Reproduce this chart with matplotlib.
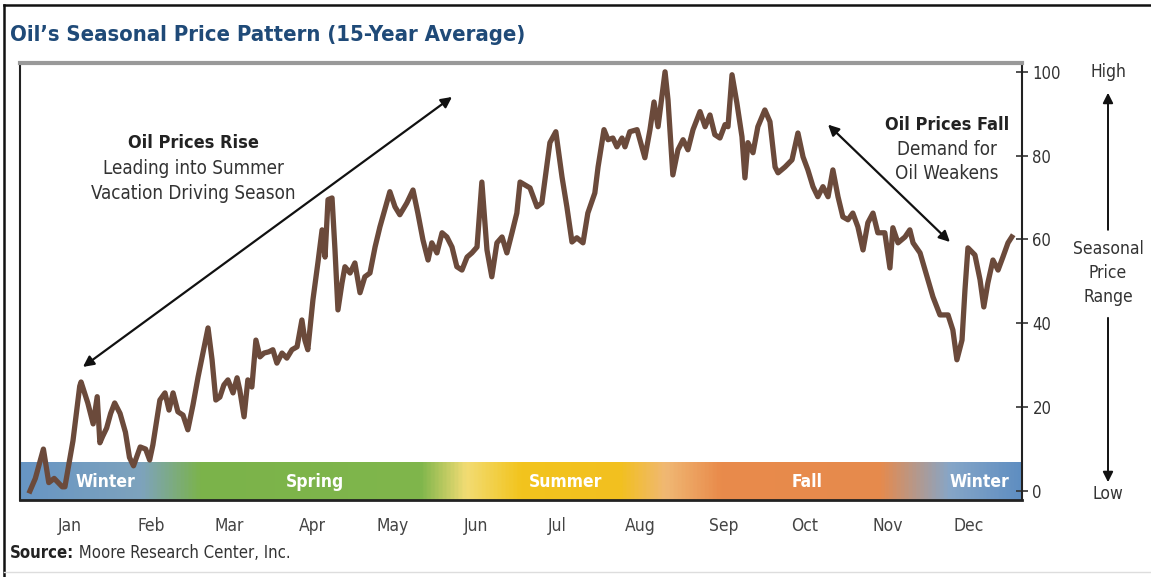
import numpy as np
import matplotlib
matplotlib.use("Agg")
import matplotlib.pyplot as plt
from matplotlib.colors import LinearSegmentedColormap
from matplotlib.lines import Line2D
import matplotlib.transforms as mtransforms

plt.rcParams['font.family'] = ['DejaVu Sans']
plt.rcParams['font.stretch'] = 'condensed'

# 15-year average seasonal pattern, day of year vs. relative price (0-100)
days = [0, 2, 5, 7, 9, 12, 13, 16, 18.5, 19, 21.5, 23.5, 25, 26, 27, 28.5, 30, 31.5,
        33.5, 35.5, 37, 38.5, 41, 43, 44.5, 45.7, 48.3, 50.2, 51.7, 53.2, 55, 56.9,
        58.7, 60.6, 62.5, 64.3, 66.2, 67.7, 69.1, 70.6, 72.1, 73.6, 75.5, 77, 78,
        79.6, 81, 82.5, 84, 85.5, 87, 88.8, 90.3, 91.8, 93.7, 95.5, 97.4, 99.3,
        101.1, 102.2, 103.3, 105.2, 107.1, 108.6, 109.7, 110.8, 112.3, 113.4,
        114.5, 116, 117.1, 119, 120.8, 122.7, 124.5, 126.4, 128.3, 130.1, 133.8,
        135.7, 137.5, 140.1, 142.4, 144.2, 146.1, 148, 149.4, 151.3, 153.2, 155,
        156.9, 158.7, 160.6, 162.5, 164.3, 166.2, 168, 169.9, 171.7, 173.6, 175.5,
        177.3, 179.2, 181, 182.2, 185.9, 188.5, 190.3, 193.3, 195.5, 197.8, 199.6,
        201.5, 203.3, 205.6, 207.4, 210, 211.2, 213.4, 214.9, 216.7, 218.2, 220.1,
        221.2, 223, 225.7, 227.5, 228.6, 230.5, 232, 233.5, 236.1, 237.2, 239,
        240.9, 242.8, 244.6, 246.5, 249.1, 251, 252.8, 254.6, 256.5, 258.4, 259.5,
        261, 262.8, 264.7, 265.8, 266.9, 268.8, 270.6, 273.2, 275.1, 277, 278.1,
        280.7, 283.3, 285.5, 287.4, 289.2, 291.1, 292.9, 294.8, 296.7, 298.5,
        300.4, 302.2, 304.1, 305.9, 307.8, 309.7, 311.5, 313.4, 315.2, 317.8,
        319.7, 320.8, 322.7, 325.3, 327.1, 328.3, 330.9, 333.5, 335.7, 338.3,
        341.3, 343.1, 344.6, 346.5, 347.6, 348.7, 351.3, 353.2, 354.6, 356.1, 358,
        359.9, 361.7, 363.6, 365]
prices = [0, 3, 10, 2, 3, 1, 1, 12, 25, 26, 21, 16, 22.5, 11.5, 13, 15, 18.5, 21,
          18.5, 14, 8, 6, 10.5, 10, 7.4, 11, 21.7, 23.4, 19.3, 23.4, 18.9, 18.1,
          14.6, 20.5, 27.2, 32.9, 38.9, 31.3, 21.7, 22.4, 25.3, 26.5, 23.4, 27, 24.1,
          17.7, 26.5, 24.8, 36, 32, 32.9, 33.2, 33.7, 30.5, 32.9, 31.7, 33.7, 34.4,
          40.8, 36, 33.7, 45.6, 54.7, 62.3, 55.8, 69.5, 69.9, 57.5,
          43.2, 49.6, 53.5, 52, 54.4, 47.3, 51.1, 52, 58.2, 63, 71.4,
          67.8, 65.9, 68.7, 71.8, 66.3, 59.9, 55.1, 59.2, 56.8, 61.6, 60.6,
          58.2, 53.5, 52.7, 55.8, 56.8, 58.2, 73.7, 57.5, 51.1, 59.2, 60.6,
          56.8, 61.6, 66.3, 73.7, 72.3, 67.8, 68.7, 83.1, 85.7, 74.9, 67.8,
          59.4, 60.4, 59.2, 66.3, 71.1, 77.3, 86.2, 83.8, 84.2, 82.1, 84.2,
          82.1, 85.7, 86.2, 82.1, 79.5, 86.2, 92.8, 86.9, 100, 93.3, 75.4,
          81.4, 83.8, 81.4, 86.2, 90.5, 86.9, 89.7, 85, 84.2, 87.4, 86.9,
          99.3, 92.6, 84.5, 74.7, 83.1, 80.7, 86.9, 90.9, 88.1, 77.3, 75.9,
          77.3, 79, 85.4, 79.7, 76.6, 72.6, 70.2, 72.6, 70.2, 76.6,
          70.2, 65.4, 64.7, 66.3, 63, 57.5, 64, 66.3, 61.6, 61.6,
          53.2, 62.8, 59.2, 60.6, 62.3, 59.2, 56.8, 51.1, 46.3, 42,
          42, 38.4, 31.3, 36, 48, 58, 56.3, 50.4, 43.9, 49.6, 55.1,
          52.7, 55.8, 59.2, 60.6]

months = ['Jan', 'Feb', 'Mar', 'Apr', 'May', 'Jun', 'Jul', 'Aug', 'Sep', 'Oct', 'Nov', 'Dec']
month_mid = [15, 45, 74, 105, 135, 166, 196, 227, 258, 288, 319, 349]
price_ticks = [0, 20, 40, 60, 80, 100]

seasons = ['Winter', 'Spring', 'Summer', 'Fall', 'Winter']
season_pos = [28, 106, 199, 289, 353]

x_lo, x_hi = -3.7, 368.8
y_lo, y_hi = -2.15, 102.1
band_top = 6.9

fig = plt.figure(figsize=(11.51, 5.77), dpi=100)
ax = fig.add_axes([20 / 1151, 1 - 500 / 577, 1002 / 1151, 437 / 577])
ax.set_xlim(x_lo, x_hi)
ax.set_ylim(y_lo, y_hi)

# season colour band along the bottom
band_colors = [(0.0, '#6795c4'), (0.12, '#7ea3bd'), (0.18, '#7bb34a'),
               (0.40, '#80b64c'), (0.445, '#f2dc74'), (0.50, '#f3c41d'),
               (0.60, '#f2c020'), (0.645, '#f0b874'), (0.70, '#e98b4b'),
               (0.86, '#e68a4d'), (0.93, '#86a6c8'), (1.0, '#5f8ec1')]
cmap = LinearSegmentedColormap.from_list('seasons', band_colors)
grad = np.linspace(0, 1, 512).reshape(1, -1)
ax.imshow(grad, cmap=cmap, aspect='auto', extent=[x_lo, x_hi, y_lo, band_top],
          zorder=1, interpolation='bilinear')
for name, pos in zip(seasons, season_pos):
    ax.text(pos, 2.1, name, color='white', fontsize=12.5, fontweight='bold',
            ha='center', va='center', zorder=2)

ax.plot(days, prices, color='#6b4a3b', lw=3.8, solid_joinstyle='round', zorder=3)

# axes frame
ax.spines['left'].set_color('#222222')
ax.spines['bottom'].set_color('#222222')
ax.spines['right'].set_color('#222222')
ax.spines['top'].set_color('#999999')
ax.spines['top'].set_linewidth(3)
ax.spines['left'].set_linewidth(1.5)
ax.spines['bottom'].set_linewidth(2)
ax.spines['right'].set_linewidth(1.5)

ax.yaxis.tick_right()
ax.set_yticks(price_ticks)
ax.tick_params(axis='y', direction='inout', length=9, width=1.2, pad=3,
               labelsize=12, labelcolor='#333333', color='#333333')
ax.set_xticks(month_mid)
ax.set_xticklabels(months)
ax.tick_params(axis='x', length=0, pad=12, labelsize=12.5, labelcolor='#444444')

# annotations with double arrows
arrow_kw = dict(arrowstyle='<|-|>', color='#111111', lw=1.6, mutation_scale=16,
                shrinkA=0, shrinkB=0)
ax.annotate('', xy=(19.7, 29.6), xytext=(156.9, 94), arrowprops=arrow_kw)
ax.annotate('', xy=(296.7, 87.4), xytext=(342, 59.4), arrowprops=arrow_kw)

ax.text(60.6, 83, 'Oil Prices Rise', fontsize=13, fontweight='bold', color='#222222',
        ha='center', va='center')
ax.text(60.6, 77, 'Leading into Summer', fontsize=13.5, color='#333333',
        ha='center', va='center')
ax.text(60.6, 70.9, 'Vacation Driving Season', fontsize=13.5, color='#333333',
        ha='center', va='center')
ax.text(341, 87.4, 'Oil Prices Fall', fontsize=13, fontweight='bold', color='#222222',
        ha='center', va='center')
ax.text(341, 81.4, 'Demand for', fontsize=13.5, color='#333333', ha='center', va='center')
ax.text(341, 75.7, 'Oil Weakens', fontsize=13.5, color='#333333', ha='center', va='center')

# high / low scale on the right
side = mtransforms.blended_transform_factory(ax.transAxes, ax.transData)
sx = (1108 - 20) / 1002
ax.text(sx, 100, 'High', transform=side, fontsize=12.5, color='#333333',
        ha='center', va='center', clip_on=False)
ax.text(sx, -0.7, 'Low', transform=side, fontsize=12.5, color='#333333',
        ha='center', va='center', clip_on=False)
ax.text(sx, 52, 'Seasonal\nPrice\nRange', transform=side, fontsize=12.5,
        color='#333333', ha='center', va='center', linespacing=1.45, clip_on=False)
side_kw = dict(arrowstyle='-|>', color='#111111', lw=1.4, mutation_scale=15,
               shrinkA=0, shrinkB=0)
ax.annotate('', xy=(sx, 95), xytext=(sx, 62.3), xycoords=side, textcoords=side,
            arrowprops=side_kw, annotation_clip=False)
ax.annotate('', xy=(sx, 2.1), xytext=(sx, 41.3), xycoords=side, textcoords=side,
            arrowprops=side_kw, annotation_clip=False)

fig.text(10 / 1151, 1 - 35 / 577, "Oil\u2019s Seasonal Price Pattern (15-Year Average)",
         fontsize=15.8, fontweight='bold', color='#1f4a78', ha='left', va='center')
src = fig.text(10 / 1151, 1 - 553 / 577, 'Source:', fontsize=12, fontweight='bold',
               color='#222222', ha='left', va='center')
ax.annotate(' Moore Research Center, Inc.', xy=(1, 0.5), xycoords=src,
            fontsize=12, color='#333333', ha='left', va='center', annotation_clip=False)

# outer frame lines
fig.add_artist(Line2D([4 / 1151, 4 / 1151], [0, 1 - 5 / 577], transform=fig.transFigure,
                      color='#111111', lw=1.8))
fig.add_artist(Line2D([4 / 1151, 1], [1 - 5 / 577, 1 - 5 / 577], transform=fig.transFigure,
                      color='#111111', lw=1.8))
fig.add_artist(Line2D([4 / 1151, 1], [1 - 572 / 577, 1 - 572 / 577], transform=fig.transFigure,
                      color='#dddddd', lw=1))

fig.savefig('out.png', dpi=100)
